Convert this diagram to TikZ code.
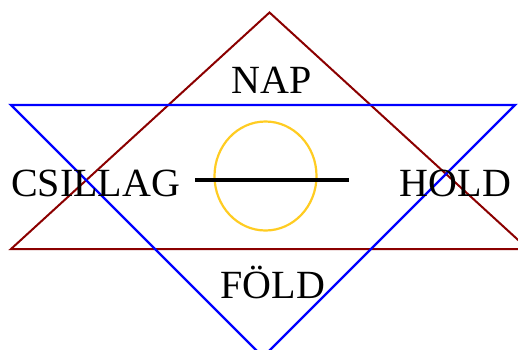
\documentclass[tikz,border=0pt]{standalone}
\usepackage{fontspec}
\setmainfont{Liberation Serif}
\usetikzlibrary{shapes.geometric}
\definecolor{trired}{HTML}{8B0000}
\definecolor{triblue}{HTML}{0000FF}
\definecolor{sungold}{HTML}{FFCC22}
\begin{document}
\begin{tikzpicture}[x=1pt,y=-1pt,
  lbl/.style={anchor=base,inner sep=0pt,font=\fontsize{40}{40}\selectfont},
  redtri/.style={draw=trired,line width=2pt,line join=miter},
  bluetri/.style={draw=triblue,line width=2.3pt,line join=miter},
  sun/.style={draw=sungold,line width=2.2pt},
  bar/.style={draw=black,line width=3.5pt}]
\useasboundingbox (0,0) rectangle (518,349);
\clip (0,0) rectangle (518,349);
% triangles
\coordinate (r1) at (269.5,12.5);
\coordinate (r2) at (11,249);
\coordinate (r3) at (528,249);
\coordinate (b1) at (11,105);
\coordinate (b2) at (515,105);
\coordinate (b3) at (263,357);
\draw[redtri] (r1) -- (r2) -- (r3) -- cycle;
\draw[bluetri] (b1) -- (b2) -- (b3) -- cycle;
% sun
\node[sun,ellipse,minimum width=102pt,minimum height=109pt,inner sep=0pt] (circ) at (265.5,176) {};
\coordinate (l1) at (195,180);
\coordinate (l2) at (348.5,180);
\draw[bar] (l1) -- (l2);
% labels
\node[lbl] (nap) at (271.7,93.3) {NAP};
\node[lbl] (csillag) at (95.7,196) {CSILLAG};
\node[lbl] (hold) at (455.5,196) {HOLD};
\node[lbl] (fold) at (272.8,298.3) {FÖLD};
\end{tikzpicture}
\end{document}
